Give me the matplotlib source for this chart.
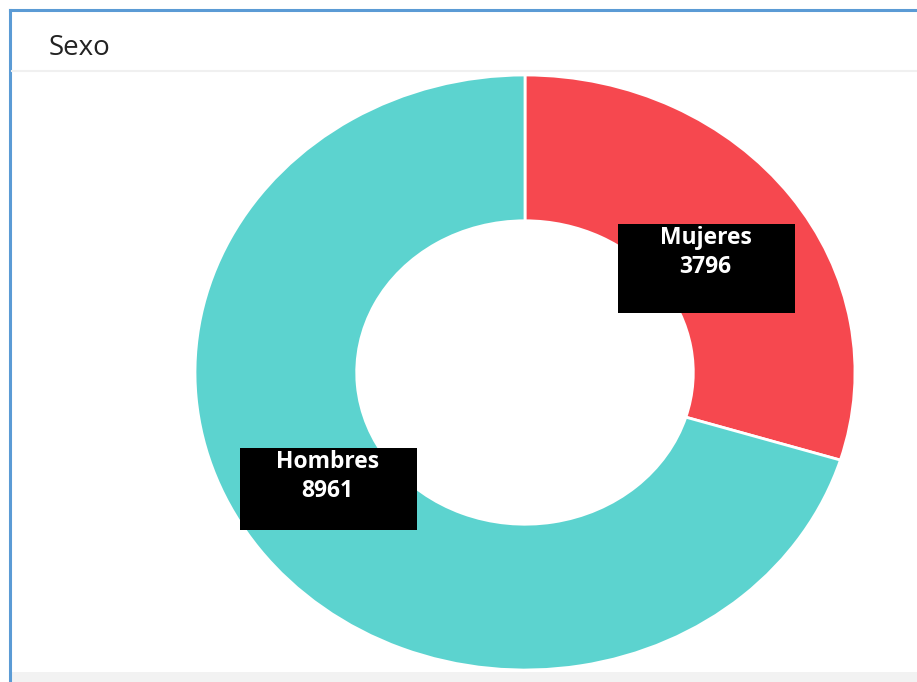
import matplotlib.pyplot as plt
from matplotlib.patches import Rectangle

categories = ['Mujeres', 'Hombres']
values = [3796, 8961]
colors = ['#F6484F', '#5CD3CF']

W, H = 917, 682
fig = plt.figure(figsize=(W / 100, H / 100), dpi=100)

# background axes in pixel coordinates (frame, header)
bg = fig.add_axes([0, 0, 1, 1])
bg.set_xlim(0, W)
bg.set_ylim(H, 0)
bg.axis('off')

bg.add_patch(Rectangle((10, 10), W, H, facecolor='white', edgecolor='none'))
bg.plot([10, 10], [10, H], color='#5B9BD5', lw=2.2)
bg.plot([10, W], [10, 10], color='#5B9BD5', lw=2.2)
bg.plot([12, W], [71, 71], color='#F0F0F0', lw=1.5)
bg.add_patch(Rectangle((12, 672), W, 12, facecolor='#F2F2F2', edgecolor='none'))
bg.text(49, 48, 'Sexo', fontsize=20, family='Open Sans', va='center', ha='left',
        color='#222222')

# donut
ax = fig.add_axes([195 / W, (H - 670) / H, 660 / W, 595 / H])
ax.pie(values, colors=colors, startangle=90, counterclock=False, radius=1,
       wedgeprops=dict(width=0.49, edgecolor='white', linewidth=2))
ax.set_aspect('auto')
ax.set_xlim(-1, 1)
ax.set_ylim(-1, 1)

# overlay axes for label boxes
top = fig.add_axes([0, 0, 1, 1])
top.set_xlim(0, W)
top.set_ylim(H, 0)
top.axis('off')

boxes = [(618, 224, 177, 89), (240, 448, 177, 82)]
for (x, y, w, h), name, val in zip(boxes, categories, values):
    top.add_patch(Rectangle((x, y), w, h, facecolor='black', edgecolor='none'))
    top.text(x + w / 2 - 1, y + 14, name, color='white', fontsize=16.5, fontweight='bold',
             family='Open Sans', ha='center', va='center')
    top.text(x + w / 2 - 1, y + 43, str(val), color='white', fontsize=16.5, fontweight='bold',
             family='Open Sans', ha='center', va='center')

fig.savefig('out.png', dpi=100)
